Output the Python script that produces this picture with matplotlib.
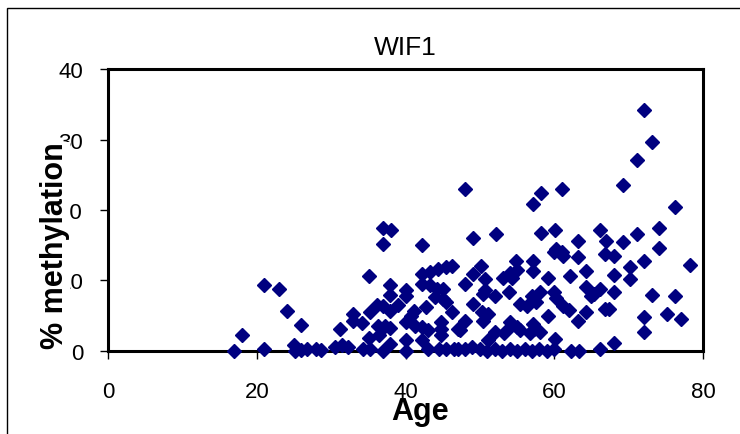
import matplotlib
matplotlib.use("Agg")
import matplotlib.pyplot as plt
from matplotlib.patches import Rectangle

plt.rcParams["font.family"] = ["Liberation Sans", "DejaVu Sans"]

# age (years) and WIF1 methylation (%) per sample
age = [
    17.0, 18.0, 21.0, 21.0, 23.0, 24.0, 25.0, 25.1, 25.9, 26.0, 26.8, 27.9,
    28.7, 30.5, 31.2, 31.4, 32.3, 33.0, 33.0, 34.1, 34.3, 35.1, 35.2, 35.1,
    35.2, 36.1, 36.3, 36.5, 37.0, 38.1, 37.0, 37.0, 37.0, 37.2, 37.9, 37.9,
    37.9, 37.9, 37.9, 39.0, 40.1, 40.1, 40.1, 40.1, 40.1, 40.8, 41.1, 41.3,
    42.2, 42.2, 42.2, 42.2, 42.2, 42.8, 43.0, 43.3, 43.3, 43.0, 44.0, 44.4,
    44.2, 44.8, 44.8, 44.8, 44.5, 45.0, 45.4, 45.5, 45.1, 45.5, 46.2, 46.2,
    46.5, 47.1, 47.1, 47.3, 48.0, 48.0, 48.0, 48.0, 49.1, 49.1, 49.1, 49.0,
    50.1, 50.7, 50.7, 50.4, 50.3, 50.4, 50.0, 51.1, 51.1, 51.0, 52.2, 52.0,
    52.0, 52.0, 53.1, 53.2, 53.0, 53.9, 54.0, 54.3, 54.0, 54.2, 54.0, 54.9,
    55.0, 55.0, 55.4, 55.4, 55.0, 56.3, 56.8, 56.0, 57.1, 57.1, 57.1, 57.0,
    57.5, 57.2, 57.3, 57.0, 58.2, 58.2, 58.1, 58.1, 58.0, 59.2, 59.2, 59.9,
    59.9, 59.0, 60.1, 60.3, 60.2, 60.1, 60.0, 61.1, 61.0, 61.2, 61.2, 62.1,
    62.0, 62.2, 63.2, 63.2, 63.2, 63.3, 64.3, 64.3, 64.3, 65.0, 65.3, 66.1,
    66.1, 66.8, 66.8, 66.1, 67.0, 67.3, 68.1, 68.1, 68.1, 68.1, 69.2, 69.2,
    70.2, 70.2, 71.1, 71.1, 72.1, 72.1, 72.1, 72.1, 73.2, 73.2, 74.1, 74.1,
    75.2, 76.2, 76.2, 77.1, 78.2,
]
methylation = [
    0.0, 2.3, 9.3, 0.3, 8.8, 5.6, 0.9, 0.0, 3.7, 0.2, 0.3, 0.3,
    0.2, 0.5, 3.1, 0.8, 0.5, 5.2, 4.3, 3.9, 0.3, 10.7, 5.5, 1.9,
    0.3, 6.5, 3.6, 2.3, 17.5, 17.1, 15.2, 6.4, 0.0, 3.6, 9.3, 8.0,
    5.7, 3.3, 1.0, 6.5, 8.6, 7.8, 4.1, 1.5, 0.0, 5.0, 5.7, 3.5,
    15.1, 10.9, 9.5, 3.4, 1.5, 6.2, 3.0, 11.2, 9.3, 0.3, 7.6, 11.6,
    8.8, 4.1, 3.1, 2.2, 0.3, 7.4, 6.9, 11.9, 8.8, 0.3, 12.1, 5.5,
    0.3, 3.1, 0.3, 2.9, 23.0, 9.5, 4.3, 0.3, 16.0, 10.9, 6.7, 0.5,
    12.0, 10.2, 8.6, 8.1, 5.5, 4.3, 0.3, 5.2, 1.5, 0.0, 16.6, 7.8,
    2.7, 0.3, 10.4, 2.5, 0.0, 8.3, 11.0, 10.4, 4.1, 3.6, 0.3, 12.8,
    11.5, 3.4, 6.7, 2.9, 0.0, 6.4, 2.6, 0.3, 20.8, 12.8, 11.4, 7.8,
    6.9, 3.8, 3.1, 0.0, 22.4, 16.8, 8.3, 2.7, 0.3, 10.3, 5.0, 14.0,
    8.3, 0.0, 17.2, 14.5, 7.5, 1.7, 0.3, 23.0, 14.0, 13.5, 6.4, 10.6,
    5.8, 0.0, 15.6, 13.3, 4.3, 0.0, 11.4, 9.0, 5.5, 7.8, 8.1, 17.1,
    8.8, 13.8, 6.0, 0.3, 15.6, 5.9, 13.5, 10.8, 8.4, 1.1, 23.5, 15.4,
    11.9, 10.2, 27.1, 16.6, 34.2, 12.8, 4.8, 2.7, 29.7, 8.0, 17.4, 14.6,
    5.3, 20.4, 7.8, 4.5, 12.2,
]

x_ticks = [0, 20, 40, 60, 80]
y_ticks = [0, 10, 20, 30, 40]

fig = plt.figure(figsize=(7.4, 4.35), dpi=100)
ax = fig.add_axes([0.146, 0.191, 0.804, 0.648])

ax.plot(age, methylation, linestyle="none", marker="D", markersize=6.9,
        color="#000080", markeredgecolor="#000080", clip_on=False, zorder=3)

ax.set_xlim(0, 80)
ax.set_ylim(0, 40)
ax.set_xticks(x_ticks)
ax.set_yticks(y_ticks)

for side in ["left", "bottom", "top", "right"]:
    ax.spines[side].set_linewidth(2.2)
ax.tick_params(axis="both", direction="out", length=6, width=1,
               labelsize=16, colors="black")
ax.tick_params(axis="x", pad=16)
ax.tick_params(axis="y", pad=12)

ax.set_title("WIF1", fontsize=19, pad=11)
ax.set_xlabel("Age", fontsize=22, fontweight="bold", va="center")
ax.xaxis.set_label_coords(0.524, -0.213)
# axis title sits over the tick numbers, on a white ground
ylab = ax.set_ylabel("% methylation", fontsize=22, fontweight="bold",
                     va="center",
                     bbox=dict(facecolor="white", edgecolor="none", pad=0))
ylab.set_zorder(5)
ax.yaxis.set_label_coords(-0.089, 0.376)

# thin outline around the whole chart area
fig.patches.append(Rectangle((0.0095, -0.1), 1.2, 1.079, transform=fig.transFigure,
                             fill=False, edgecolor="black", linewidth=1))

fig.savefig("out.png", dpi=100)
